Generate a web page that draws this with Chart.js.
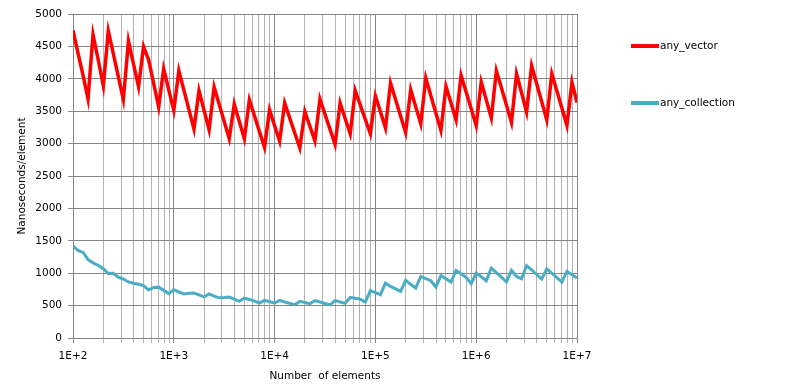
<!DOCTYPE html>
<html>
<head>
<meta charset="utf-8">
<script src="https://cdn.jsdelivr.net/npm/chart.js@4"></script>
<style>
  html, body { margin: 0; padding: 0; background: #fff; }
  #grafico { display: block; }
</style>
</head>
<body>
<canvas id="grafico" width="795" height="390"></canvas>
<script>
// numero de elementos (eje x, logaritmico, 20 puntos por decada)
const elementos = [
  100, 112, 126, 141, 158, 178, 200, 224, 251, 282, 316, 355, 398, 447, 501, 562, 631, 708, 794, 891,
  1000, 1122, 1259, 1413, 1585, 1778, 1995, 2239, 2512, 2818, 3162, 3548, 3981, 4467, 5012, 5623, 6310, 7079, 7943, 8913,
  10000, 11220, 12589, 14125, 15849, 17783, 19953, 22387, 25119, 28184, 31623, 35481, 39811, 44668, 50119, 56234, 63096, 70795, 79433, 89125,
  100000, 112202, 125893, 141254, 158489, 177828, 199526, 223872, 251189, 281838, 316228, 354813, 398107, 446684, 501187, 562341, 630957, 707946, 794328, 891251,
  1000000, 1122018, 1258925, 1412538, 1584893, 1778279, 1995262, 2238721, 2511886, 2818383, 3162278, 3548134, 3981072, 4466836, 5011872, 5623413, 6309573, 7079458, 7943282, 8912509,
  10000000
];

// nanosegundos por elemento, any_vector
const any_vector = [
  4746, 4400, 4050, 3690, 4680, 4290, 3890, 4740, 4390, 4030,
  3680, 4585, 4230, 3875, 4500, 4295, 3930, 3565, 4155, 3830,
  3512, 4124, 3825, 3525, 3225, 3816, 3515, 3214, 3873, 3607,
  3340, 3075, 3611, 3342, 3075, 3677, 3430, 3183, 2941, 3523,
  3276, 3037, 3626, 3394, 3163, 2932, 3496, 3268, 3040, 3688,
  3453, 3220, 2987, 3626, 3388, 3152, 3816, 3595, 3375, 3152,
  3734, 3492, 3240, 3935, 3680, 3425, 3172, 3831, 3569, 3307,
  4012, 3739, 3472, 3203, 3882, 3626, 3368, 4052, 3796, 3538,
  3280, 3950, 3672, 3395, 4124, 3862, 3595, 3327, 4078, 3785,
  3487, 4202, 3924, 3646, 3368, 4078, 3816, 3549, 3280, 3944,
  3635
];

// nanosegundos por elemento, any_collection
const any_collection = [
  1424, 1350, 1320, 1210, 1160, 1120, 1070, 995, 1000, 940,
  910, 865, 845, 830, 810, 740, 780, 785, 735, 685,
  745, 710, 680, 690, 695, 665, 635, 680, 645, 620,
  625, 632, 600, 566, 617, 595, 570, 540, 580, 560,
  540, 580, 555, 535, 514, 565, 548, 530, 576, 555,
  532, 510, 576, 555, 534, 626, 612, 600, 555, 730,
  700, 668, 849, 796, 758, 719, 889, 830, 771, 950,
  917, 884, 787, 966, 915, 864, 1043, 990, 935, 838,
  1003, 945, 884, 1080, 1010, 938, 864, 1043, 950, 915,
  1116, 1050, 980, 910, 1065, 1000, 932, 864, 1028, 975,
  926
];

// decadas con etiqueta en el eje x
const decadas = [100, 1000, 10000, 100000, 1000000, 10000000];
const etiquetas_decadas = ['1E+2', '1E+3', '1E+4', '1E+5', '1E+6', '1E+7'];

const fuente = 'DejaVu Sans';

function puntos(serie) {
  return serie.map((v, i) => ({ x: elementos[i], y: v }));
}

// leyenda dibujada a mano a la derecha
const leyenda = {
  id: 'leyenda',
  afterDraw(chart) {
    const ctx = chart.ctx;
    const filas = [46, 103];
    ctx.save();
    chart.data.datasets.forEach((ds, i) => {
      const y = filas[i];
      ctx.strokeStyle = ds.borderColor;
      ctx.lineWidth = 4;
      ctx.beginPath();
      ctx.moveTo(631, y);
      ctx.lineTo(659, y);
      ctx.stroke();
      ctx.fillStyle = '#000';
      ctx.font = '10.5px "' + fuente + '"';
      ctx.textBaseline = 'middle';
      ctx.fillText(ds.label, 660, y);
    });
    ctx.restore();
  }
};

const ctx = document.getElementById('grafico').getContext('2d');
new Chart(ctx, {
  type: 'line',
  data: {
    datasets: [
      {
        label: 'any_vector',
        data: puntos(any_vector),
        borderColor: '#ff0000',
        borderWidth: 3.5,
        pointRadius: 0,
        tension: 0
      },
      {
        label: 'any_collection',
        data: puntos(any_collection),
        borderColor: '#4bacc6',
        borderWidth: 3,
        pointRadius: 0,
        tension: 0
      }
    ]
  },
  options: {
    responsive: false,
    animation: false,
    layout: { padding: { top: 14, right: 218, left: 0, bottom: 0 } },
    plugins: {
      legend: { display: false },
      tooltip: { enabled: false }
    },
    scales: {
      x: {
        type: 'logarithmic',
        min: 100,
        max: 10000000,
        afterBuildTicks(scale) {
          const t = [];
          decadas.forEach((d, i) => {
            if (i === decadas.length - 1) { t.push({ value: d }); return; }
            for (let k = 1; k <= 9; k++) t.push({ value: d * k });
          });
          scale.ticks = t;
        },
        afterFit(scale) { scale.height = 52; },
        ticks: {
          autoSkip: false,
          maxRotation: 0,
          padding: 7,
          color: '#000',
          font: { family: fuente, size: 10.5 },
          callback(v) {
            const i = decadas.indexOf(v);
            return i >= 0 ? etiquetas_decadas[i] : '';
          }
        },
        grid: {
          color: (c) => decadas.includes(c.tick && c.tick.value) ? '#868686' : '#b3b3b3',
          tickLength: 5
        },
        border: { color: '#868686' },
        title: {
          display: true,
          text: 'Number  of elements',
          color: '#000',
          font: { family: fuente, size: 10.5 },
          padding: { top: 0, bottom: 7 }
        }
      },
      y: {
        min: 0,
        max: 5000,
        afterFit(scale) { scale.width = 73; },
        ticks: {
          stepSize: 500,
          padding: 6,
          color: '#000',
          font: { family: fuente, size: 10.5 },
          callback: (v) => String(v)
        },
        grid: { color: '#868686', tickLength: 5 },
        border: { color: '#868686' },
        title: {
          display: true,
          text: 'Nanoseconds/element',
          color: '#000',
          font: { family: fuente, size: 10.5 },
          padding: { top: 16, bottom: 0 }
        }
      }
    }
  },
  plugins: [leyenda]
});
</script>
</body>
</html>
